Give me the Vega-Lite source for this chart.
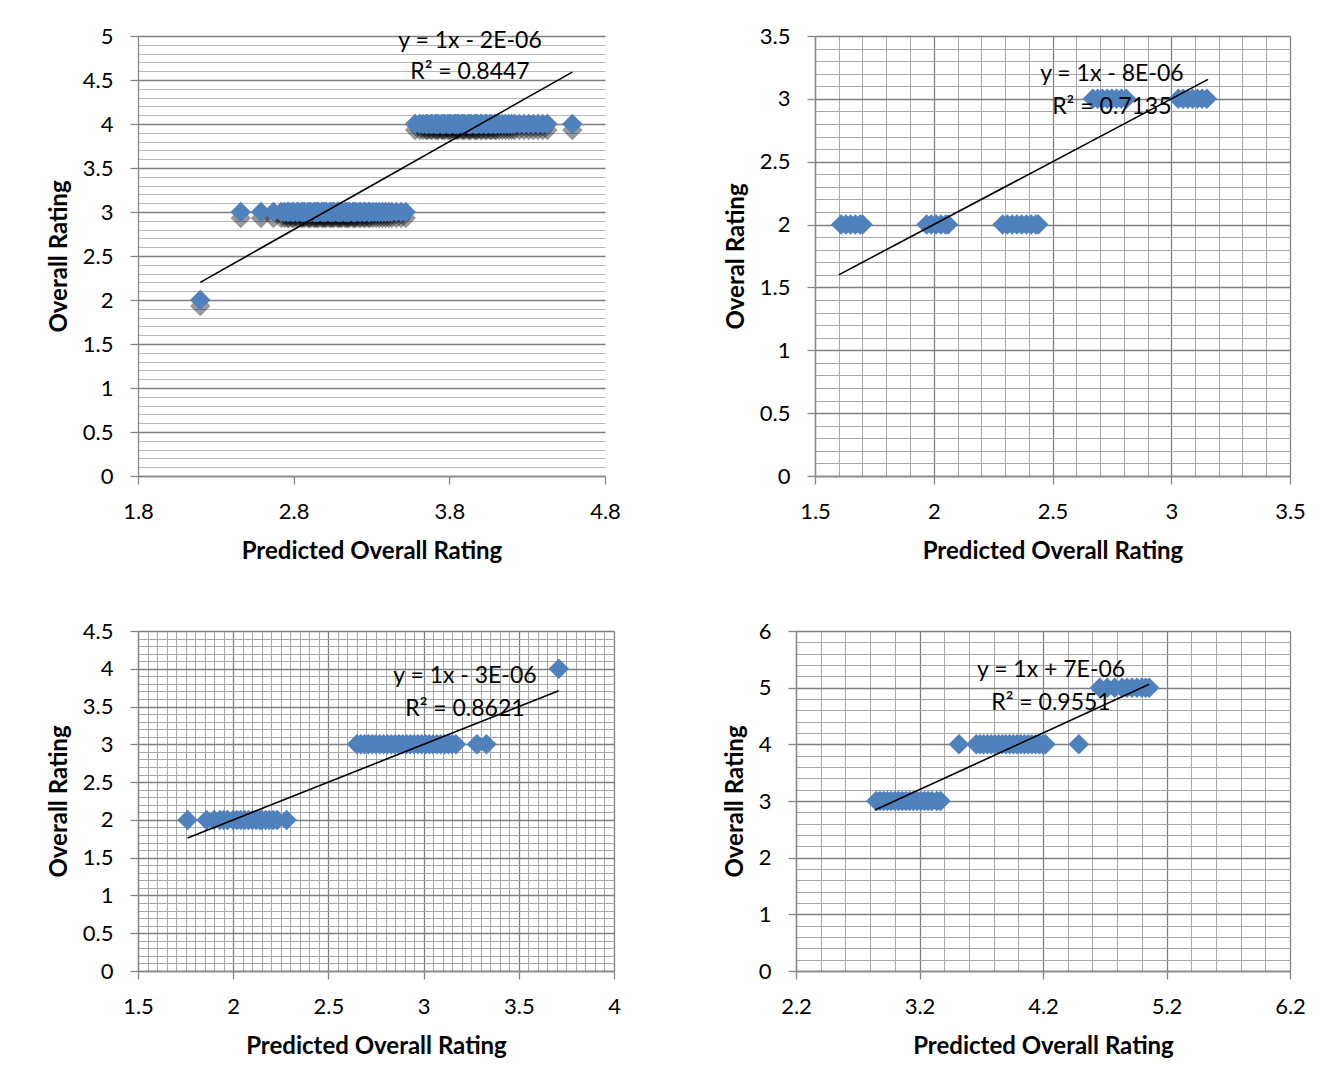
{
  "$schema": "https://vega.github.io/schema/vega-lite/v6.json",
  "background": "white",
  "padding": {"left": 47, "top": 25, "right": 10, "bottom": 10},
  "config": {
    "view": {"stroke": null},
    "font": "Lato",
    "axis": {
      "labelFont": "Lato", "labelFontSize": 22, "labelColor": "#000000",
      "titleFont": "Lato", "titleFontSize": 24, "titleFontWeight": "bold", "titleColor": "#000000",
      "domainColor": "#868686", "domainWidth": 1.3,
      "tickColor": "#868686", "tickWidth": 1.3, "tickSize": 8,
      "labelFlush": false, "labelOverlap": false, "labelBound": false
    },
    "axisX": {"labelPadding": 17, "titlePadding": 17},
    "axisY": {"labelPadding": 17, "titlePadding": 11},
    "text": {"font": "Lato", "fontSize": 23, "color": "#000000"},
    "point": {"shape": "diamond", "filled": true, "size": 420, "opacity": 1, "strokeWidth": 0}
  },
  "datasets": {
    "p1": [
      {"x": 2.2, "y": 2},
      {"x": 2.46, "y": 3}, {"x": 2.59, "y": 3}, {"x": 2.67, "y": 3}, {"x": 2.72, "y": 3}, {"x": 2.74, "y": 3},
      {"x": 2.76, "y": 3}, {"x": 2.77, "y": 3}, {"x": 2.79, "y": 3}, {"x": 2.8, "y": 3}, {"x": 2.82, "y": 3},
      {"x": 2.83, "y": 3}, {"x": 2.85, "y": 3}, {"x": 2.86, "y": 3}, {"x": 2.87, "y": 3}, {"x": 2.89, "y": 3},
      {"x": 2.9, "y": 3}, {"x": 2.91, "y": 3}, {"x": 2.93, "y": 3}, {"x": 2.94, "y": 3}, {"x": 2.95, "y": 3},
      {"x": 2.96, "y": 3}, {"x": 2.98, "y": 3}, {"x": 2.99, "y": 3}, {"x": 3.0, "y": 3}, {"x": 3.01, "y": 3},
      {"x": 3.03, "y": 3}, {"x": 3.04, "y": 3}, {"x": 3.05, "y": 3}, {"x": 3.06, "y": 3}, {"x": 3.08, "y": 3},
      {"x": 3.09, "y": 3}, {"x": 3.1, "y": 3}, {"x": 3.11, "y": 3}, {"x": 3.13, "y": 3}, {"x": 3.14, "y": 3},
      {"x": 3.15, "y": 3}, {"x": 3.16, "y": 3}, {"x": 3.18, "y": 3}, {"x": 3.19, "y": 3}, {"x": 3.2, "y": 3},
      {"x": 3.22, "y": 3}, {"x": 3.23, "y": 3}, {"x": 3.25, "y": 3}, {"x": 3.26, "y": 3}, {"x": 3.28, "y": 3},
      {"x": 3.29, "y": 3}, {"x": 3.31, "y": 3}, {"x": 3.33, "y": 3}, {"x": 3.35, "y": 3}, {"x": 3.37, "y": 3},
      {"x": 3.39, "y": 3}, {"x": 3.41, "y": 3}, {"x": 3.43, "y": 3}, {"x": 3.46, "y": 3}, {"x": 3.49, "y": 3},
      {"x": 3.52, "y": 3},
      {"x": 3.58, "y": 4}, {"x": 3.61, "y": 4}, {"x": 3.63, "y": 4}, {"x": 3.65, "y": 4}, {"x": 3.66, "y": 4},
      {"x": 3.68, "y": 4}, {"x": 3.69, "y": 4}, {"x": 3.71, "y": 4}, {"x": 3.72, "y": 4}, {"x": 3.73, "y": 4},
      {"x": 3.75, "y": 4}, {"x": 3.76, "y": 4}, {"x": 3.77, "y": 4}, {"x": 3.79, "y": 4}, {"x": 3.8, "y": 4},
      {"x": 3.81, "y": 4}, {"x": 3.83, "y": 4}, {"x": 3.84, "y": 4}, {"x": 3.85, "y": 4}, {"x": 3.86, "y": 4},
      {"x": 3.88, "y": 4}, {"x": 3.89, "y": 4}, {"x": 3.9, "y": 4}, {"x": 3.92, "y": 4}, {"x": 3.93, "y": 4},
      {"x": 3.94, "y": 4}, {"x": 3.96, "y": 4}, {"x": 3.97, "y": 4}, {"x": 3.98, "y": 4}, {"x": 4.0, "y": 4},
      {"x": 4.01, "y": 4}, {"x": 4.03, "y": 4}, {"x": 4.04, "y": 4}, {"x": 4.06, "y": 4}, {"x": 4.07, "y": 4},
      {"x": 4.09, "y": 4}, {"x": 4.1, "y": 4}, {"x": 4.12, "y": 4}, {"x": 4.14, "y": 4}, {"x": 4.16, "y": 4},
      {"x": 4.18, "y": 4}, {"x": 4.2, "y": 4}, {"x": 4.22, "y": 4}, {"x": 4.25, "y": 4}, {"x": 4.28, "y": 4},
      {"x": 4.31, "y": 4}, {"x": 4.34, "y": 4}, {"x": 4.37, "y": 4}, {"x": 4.4, "y": 4}, {"x": 4.43, "y": 4},
      {"x": 4.59, "y": 4}
    ],
    "p1t": [{"x": 2.2, "y": 2.2}, {"x": 4.59, "y": 4.59}],
    "p1e": [{"eq": "y = 1x - 2E-06", "r2": "R² = 0.8447"}],
    "p2": [
      {"x": 1.61, "y": 2}, {"x": 1.63, "y": 2}, {"x": 1.65, "y": 2}, {"x": 1.67, "y": 2}, {"x": 1.69, "y": 2}, {"x": 1.7, "y": 2},
      {"x": 1.97, "y": 2}, {"x": 1.99, "y": 2}, {"x": 2.01, "y": 2}, {"x": 2.03, "y": 2}, {"x": 2.05, "y": 2}, {"x": 2.06, "y": 2},
      {"x": 2.29, "y": 2}, {"x": 2.31, "y": 2}, {"x": 2.33, "y": 2}, {"x": 2.35, "y": 2}, {"x": 2.37, "y": 2}, {"x": 2.39, "y": 2},
      {"x": 2.41, "y": 2}, {"x": 2.43, "y": 2}, {"x": 2.44, "y": 2},
      {"x": 2.67, "y": 3}, {"x": 2.69, "y": 3}, {"x": 2.71, "y": 3}, {"x": 2.73, "y": 3}, {"x": 2.75, "y": 3}, {"x": 2.77, "y": 3},
      {"x": 2.79, "y": 3}, {"x": 2.81, "y": 3},
      {"x": 3.03, "y": 3}, {"x": 3.05, "y": 3}, {"x": 3.07, "y": 3}, {"x": 3.09, "y": 3}, {"x": 3.11, "y": 3}, {"x": 3.13, "y": 3},
      {"x": 3.15, "y": 3}
    ],
    "p2t": [{"x": 1.6, "y": 1.6}, {"x": 3.155, "y": 3.155}],
    "p2e": [{"eq": "y = 1x - 8E-06", "r2": "R² = 0.7135"}],
    "p3": [
      {"x": 1.76, "y": 2}, {"x": 1.86, "y": 2}, {"x": 1.9, "y": 2}, {"x": 1.93, "y": 2}, {"x": 1.95, "y": 2},
      {"x": 1.97, "y": 2}, {"x": 2.0, "y": 2}, {"x": 2.02, "y": 2}, {"x": 2.04, "y": 2}, {"x": 2.06, "y": 2},
      {"x": 2.08, "y": 2}, {"x": 2.1, "y": 2}, {"x": 2.12, "y": 2}, {"x": 2.14, "y": 2}, {"x": 2.15, "y": 2},
      {"x": 2.17, "y": 2}, {"x": 2.19, "y": 2}, {"x": 2.21, "y": 2}, {"x": 2.23, "y": 2}, {"x": 2.28, "y": 2},
      {"x": 2.65, "y": 3}, {"x": 2.67, "y": 3}, {"x": 2.69, "y": 3}, {"x": 2.71, "y": 3}, {"x": 2.73, "y": 3},
      {"x": 2.75, "y": 3}, {"x": 2.77, "y": 3}, {"x": 2.79, "y": 3}, {"x": 2.81, "y": 3}, {"x": 2.83, "y": 3},
      {"x": 2.85, "y": 3}, {"x": 2.87, "y": 3}, {"x": 2.89, "y": 3}, {"x": 2.91, "y": 3}, {"x": 2.93, "y": 3},
      {"x": 2.95, "y": 3}, {"x": 2.97, "y": 3}, {"x": 2.99, "y": 3}, {"x": 3.01, "y": 3}, {"x": 3.03, "y": 3},
      {"x": 3.05, "y": 3}, {"x": 3.07, "y": 3}, {"x": 3.09, "y": 3}, {"x": 3.11, "y": 3}, {"x": 3.13, "y": 3},
      {"x": 3.15, "y": 3}, {"x": 3.17, "y": 3}, {"x": 3.28, "y": 3}, {"x": 3.33, "y": 3},
      {"x": 3.71, "y": 4}
    ],
    "p3t": [{"x": 1.76, "y": 1.76}, {"x": 3.71, "y": 3.71}],
    "p3e": [{"eq": "y = 1x - 3E-06", "r2": "R² = 0.8621"}],
    "p4": [
      {"x": 2.85, "y": 3}, {"x": 2.88, "y": 3}, {"x": 2.91, "y": 3}, {"x": 2.94, "y": 3}, {"x": 2.97, "y": 3},
      {"x": 3.0, "y": 3}, {"x": 3.03, "y": 3}, {"x": 3.06, "y": 3}, {"x": 3.09, "y": 3}, {"x": 3.12, "y": 3},
      {"x": 3.15, "y": 3}, {"x": 3.18, "y": 3}, {"x": 3.21, "y": 3}, {"x": 3.24, "y": 3}, {"x": 3.27, "y": 3},
      {"x": 3.3, "y": 3}, {"x": 3.34, "y": 3}, {"x": 3.37, "y": 3},
      {"x": 3.52, "y": 4}, {"x": 3.66, "y": 4}, {"x": 3.69, "y": 4}, {"x": 3.72, "y": 4}, {"x": 3.75, "y": 4},
      {"x": 3.78, "y": 4}, {"x": 3.81, "y": 4}, {"x": 3.84, "y": 4}, {"x": 3.87, "y": 4}, {"x": 3.9, "y": 4},
      {"x": 3.93, "y": 4}, {"x": 3.96, "y": 4}, {"x": 3.99, "y": 4}, {"x": 4.02, "y": 4}, {"x": 4.05, "y": 4},
      {"x": 4.08, "y": 4}, {"x": 4.11, "y": 4}, {"x": 4.14, "y": 4}, {"x": 4.17, "y": 4}, {"x": 4.2, "y": 4},
      {"x": 4.22, "y": 4}, {"x": 4.49, "y": 4},
      {"x": 4.66, "y": 5}, {"x": 4.72, "y": 5}, {"x": 4.78, "y": 5}, {"x": 4.84, "y": 5}, {"x": 4.88, "y": 5},
      {"x": 4.92, "y": 5}, {"x": 4.96, "y": 5}, {"x": 5.0, "y": 5}, {"x": 5.03, "y": 5}, {"x": 5.06, "y": 5}
    ],
    "p4t": [{"x": 2.84, "y": 2.84}, {"x": 5.06, "y": 5.06}],
    "p4e": [{"eq": "y = 1x + 7E-06", "r2": "R² = 0.9551"}]
  },
  "vconcat": [
    {
      "hconcat": [
        {
          "width": 467, "height": 440,
          "resolve": {"axis": {"x": "independent", "y": "independent"}},
          "layer": [
            {
              "encoding": {
                "x": {"field": "x", "type": "quantitative", "scale": {"domain": [1.8, 4.8], "nice": false, "zero": false},
                  "axis": {"title": "Predicted Overall Rating", "values": [1.8, 2.8, 3.8, 4.8], "grid": false, "labelOverlap": false,
                    "labelExpr": "format(datum.value, '~g')"}},
                "y": {"field": "y", "type": "quantitative", "scale": {"domain": [0, 5], "nice": false, "zero": false},
                  "axis": {"title": "Overall Rating", "labelOverlap": false,
                    "values": [0,0.1,0.2,0.3,0.4,0.5,0.6,0.7,0.8,0.9,1,1.1,1.2,1.3,1.4,1.5,1.6,1.7,1.8,1.9,2,2.1,2.2,2.3,2.4,2.5,2.6,2.7,2.8,2.9,3,3.1,3.2,3.3,3.4,3.5,3.6,3.7,3.8,3.9,4,4.1,4.2,4.3,4.4,4.5,4.6,4.7,4.8,4.9,5],
                    "grid": true,
                    "gridColor": {"condition": {"test": "abs(datum.value*2 - round(datum.value*2)) < 0.001", "value": "#808080"}, "value": "#b8b8b8"},
                    "gridWidth": {"condition": {"test": "abs(datum.value*2 - round(datum.value*2)) < 0.001", "value": 1.3}, "value": 1},
                    "tickOpacity": {"condition": {"test": "abs(datum.value*2 - round(datum.value*2)) < 0.001", "value": 1}, "value": 0},
                    "labelExpr": "abs(datum.value*2 - round(datum.value*2)) < 0.001 ? format(datum.value, '~g') : ''"}}
              },
              "layer": [
                {"data": {"name": "p1"}, "mark": {"type": "point", "color": "#000000", "opacity": 0.4, "yOffset": 6}},
                {"data": {"name": "p1"}, "mark": {"type": "point", "color": "#4F81BD"}},
                {"data": {"name": "p1t"}, "mark": {"type": "line", "color": "#000000", "strokeWidth": 1.6}}
              ]
            },
            {"data": {"name": "p1e"}, "mark": {"type": "text", "baseline": "middle", "align": "center"},
              "encoding": {"x": {"datum": 3.933, "type": "quantitative", "axis": null}, "y": {"datum": 4.943, "type": "quantitative", "axis": null}, "text": {"field": "eq", "type": "nominal"}}},
            {"data": {"name": "p1e"}, "mark": {"type": "text", "baseline": "middle", "align": "center"},
              "encoding": {"x": {"datum": 3.933, "type": "quantitative", "axis": null}, "y": {"datum": 4.591, "type": "quantitative", "axis": null}, "text": {"field": "r2", "type": "nominal"}}}
          ]
        },
        {
          "width": 475, "height": 440,
          "resolve": {"axis": {"x": "independent", "y": "independent"}},
          "layer": [
            {
              "encoding": {
                "x": {"field": "x", "type": "quantitative", "scale": {"domain": [1.5, 3.5], "nice": false, "zero": false},
                  "axis": {"title": "Predicted Overall Rating", "labelOverlap": false,
                    "values": [1.5,1.6,1.7,1.8,1.9,2,2.1,2.2,2.3,2.4,2.5,2.6,2.7,2.8,2.9,3,3.1,3.2,3.3,3.4,3.5],
                    "grid": true,
                    "gridColor": {"condition": {"test": "abs(datum.value*2 - round(datum.value*2)) < 0.001", "value": "#808080"}, "value": "#a8a8a8"},
                    "gridWidth": {"condition": {"test": "abs(datum.value*2 - round(datum.value*2)) < 0.001", "value": 1.3}, "value": 1},
                    "tickOpacity": {"condition": {"test": "abs(datum.value*2 - round(datum.value*2)) < 0.001", "value": 1}, "value": 0},
                    "labelExpr": "abs(datum.value*2 - round(datum.value*2)) < 0.001 ? format(datum.value, '~g') : ''"}},
                "y": {"field": "y", "type": "quantitative", "scale": {"domain": [0, 3.5], "nice": false, "zero": false},
                  "axis": {"title": "Overal Rating", "labelOverlap": false,
                    "values": [0,0.1,0.2,0.3,0.4,0.5,0.6,0.7,0.8,0.9,1,1.1,1.2,1.3,1.4,1.5,1.6,1.7,1.8,1.9,2,2.1,2.2,2.3,2.4,2.5,2.6,2.7,2.8,2.9,3,3.1,3.2,3.3,3.4,3.5],
                    "grid": true,
                    "gridColor": {"condition": {"test": "abs(datum.value*2 - round(datum.value*2)) < 0.001", "value": "#808080"}, "value": "#a8a8a8"},
                    "gridWidth": {"condition": {"test": "abs(datum.value*2 - round(datum.value*2)) < 0.001", "value": 1.3}, "value": 1},
                    "tickOpacity": {"condition": {"test": "abs(datum.value*2 - round(datum.value*2)) < 0.001", "value": 1}, "value": 0},
                    "labelExpr": "abs(datum.value*2 - round(datum.value*2)) < 0.001 ? format(datum.value, '~g') : ''"}}
              },
              "layer": [
                {"data": {"name": "p2"}, "mark": {"type": "point", "color": "#4F81BD"}},
                {"data": {"name": "p2t"}, "mark": {"type": "line", "color": "#000000", "strokeWidth": 1.6}}
              ]
            },
            {"data": {"name": "p2e"}, "mark": {"type": "text", "baseline": "middle", "align": "center"},
              "encoding": {"x": {"datum": 2.75, "type": "quantitative", "axis": null}, "y": {"datum": 3.198, "type": "quantitative", "axis": null}, "text": {"field": "eq", "type": "nominal"}}},
            {"data": {"name": "p2e"}, "mark": {"type": "text", "baseline": "middle", "align": "center"},
              "encoding": {"x": {"datum": 2.75, "type": "quantitative", "axis": null}, "y": {"datum": 2.935, "type": "quantitative", "axis": null}, "text": {"field": "r2", "type": "nominal"}}}
          ]
        }
      ],
      "spacing": 210,
      "bounds": "flush"
    },
    {
      "hconcat": [
        {
          "width": 476, "height": 340,
          "resolve": {"axis": {"x": "independent", "y": "independent"}},
          "layer": [
            {
              "encoding": {
                "x": {"field": "x", "type": "quantitative", "scale": {"domain": [1.5, 4], "nice": false, "zero": false},
                  "axis": {"title": "Predicted Overall Rating", "labelOverlap": false,
                    "values": [1.5,1.55,1.6,1.65,1.7,1.75,1.8,1.85,1.9,1.95,2,2.05,2.1,2.15,2.2,2.25,2.3,2.35,2.4,2.45,2.5,2.55,2.6,2.65,2.7,2.75,2.8,2.85,2.9,2.95,3,3.05,3.1,3.15,3.2,3.25,3.3,3.35,3.4,3.45,3.5,3.55,3.6,3.65,3.7,3.75,3.8,3.85,3.9,3.95,4],
                    "grid": true,
                    "gridColor": {"condition": {"test": "abs(datum.value*2 - round(datum.value*2)) < 0.001", "value": "#808080"}, "value": "#a8a8a8"},
                    "gridWidth": {"condition": {"test": "abs(datum.value*2 - round(datum.value*2)) < 0.001", "value": 1.3}, "value": 1},
                    "tickOpacity": {"condition": {"test": "abs(datum.value*2 - round(datum.value*2)) < 0.001", "value": 1}, "value": 0},
                    "labelExpr": "abs(datum.value*2 - round(datum.value*2)) < 0.001 ? format(datum.value, '~g') : ''"}},
                "y": {"field": "y", "type": "quantitative", "scale": {"domain": [0, 4.5], "nice": false, "zero": false},
                  "axis": {"title": "Overall Rating", "labelOverlap": false,
                    "values": [0,0.1,0.2,0.3,0.4,0.5,0.6,0.7,0.8,0.9,1,1.1,1.2,1.3,1.4,1.5,1.6,1.7,1.8,1.9,2,2.1,2.2,2.3,2.4,2.5,2.6,2.7,2.8,2.9,3,3.1,3.2,3.3,3.4,3.5,3.6,3.7,3.8,3.9,4,4.1,4.2,4.3,4.4,4.5],
                    "grid": true,
                    "gridColor": {"condition": {"test": "abs(datum.value*2 - round(datum.value*2)) < 0.001", "value": "#808080"}, "value": "#a8a8a8"},
                    "gridWidth": {"condition": {"test": "abs(datum.value*2 - round(datum.value*2)) < 0.001", "value": 1.3}, "value": 1},
                    "tickOpacity": {"condition": {"test": "abs(datum.value*2 - round(datum.value*2)) < 0.001", "value": 1}, "value": 0},
                    "labelExpr": "abs(datum.value*2 - round(datum.value*2)) < 0.001 ? format(datum.value, '~g') : ''"}}
              },
              "layer": [
                {"data": {"name": "p3"}, "mark": {"type": "point", "color": "#4F81BD"}},
                {"data": {"name": "p3t"}, "mark": {"type": "line", "color": "#000000", "strokeWidth": 1.6}}
              ]
            },
            {"data": {"name": "p3e"}, "mark": {"type": "text", "baseline": "middle", "align": "center"},
              "encoding": {"x": {"datum": 3.217, "type": "quantitative", "axis": null}, "y": {"datum": 3.904, "type": "quantitative", "axis": null}, "text": {"field": "eq", "type": "nominal"}}},
            {"data": {"name": "p3e"}, "mark": {"type": "text", "baseline": "middle", "align": "center"},
              "encoding": {"x": {"datum": 3.217, "type": "quantitative", "axis": null}, "y": {"datum": 3.467, "type": "quantitative", "axis": null}, "text": {"field": "r2", "type": "nominal"}}}
          ]
        },
        {
          "width": 494, "height": 340,
          "resolve": {"axis": {"x": "independent", "y": "independent"}},
          "layer": [
            {
              "encoding": {
                "x": {"field": "x", "type": "quantitative", "scale": {"domain": [2.2, 6.2], "nice": false, "zero": false},
                  "axis": {"title": "Predicted Overall Rating", "labelOverlap": false,
                    "values": [2.2,2.4,2.6,2.8,3,3.2,3.4,3.6,3.8,4,4.2,4.4,4.6,4.8,5,5.2,5.4,5.6,5.8,6,6.2],
                    "grid": true,
                    "gridColor": {"condition": {"test": "abs((datum.value-0.2) - round(datum.value-0.2)) < 0.001", "value": "#808080"}, "value": "#a8a8a8"},
                    "gridWidth": {"condition": {"test": "abs((datum.value-0.2) - round(datum.value-0.2)) < 0.001", "value": 1.3}, "value": 1},
                    "tickOpacity": {"condition": {"test": "abs((datum.value-0.2) - round(datum.value-0.2)) < 0.001", "value": 1}, "value": 0},
                    "labelExpr": "abs((datum.value-0.2) - round(datum.value-0.2)) < 0.001 ? format(datum.value, '~g') : ''"}},
                "y": {"field": "y", "type": "quantitative", "scale": {"domain": [0, 6], "nice": false, "zero": false},
                  "axis": {"title": "Overall Rating", "labelOverlap": false,
                    "values": [0,0.2,0.4,0.6,0.8,1,1.2,1.4,1.6,1.8,2,2.2,2.4,2.6,2.8,3,3.2,3.4,3.6,3.8,4,4.2,4.4,4.6,4.8,5,5.2,5.4,5.6,5.8,6],
                    "grid": true,
                    "gridColor": {"condition": {"test": "abs(datum.value - round(datum.value)) < 0.001", "value": "#808080"}, "value": "#a8a8a8"},
                    "gridWidth": {"condition": {"test": "abs(datum.value - round(datum.value)) < 0.001", "value": 1.3}, "value": 1},
                    "tickOpacity": {"condition": {"test": "abs(datum.value - round(datum.value)) < 0.001", "value": 1}, "value": 0},
                    "labelExpr": "abs(datum.value - round(datum.value)) < 0.001 ? format(datum.value, '~g') : ''"}}
              },
              "layer": [
                {"data": {"name": "p4"}, "mark": {"type": "point", "color": "#4F81BD"}},
                {"data": {"name": "p4t"}, "mark": {"type": "line", "color": "#000000", "strokeWidth": 1.6}}
              ]
            },
            {"data": {"name": "p4e"}, "mark": {"type": "text", "baseline": "middle", "align": "center"},
              "encoding": {"x": {"datum": 4.265, "type": "quantitative", "axis": null}, "y": {"datum": 5.311, "type": "quantitative", "axis": null}, "text": {"field": "eq", "type": "nominal"}}},
            {"data": {"name": "p4e"}, "mark": {"type": "text", "baseline": "middle", "align": "center"},
              "encoding": {"x": {"datum": 4.265, "type": "quantitative", "axis": null}, "y": {"datum": 4.729, "type": "quantitative", "axis": null}, "text": {"field": "r2", "type": "nominal"}}}
          ]
        }
      ],
      "spacing": 182,
      "bounds": "flush"
    }
  ],
  "spacing": 57
}
